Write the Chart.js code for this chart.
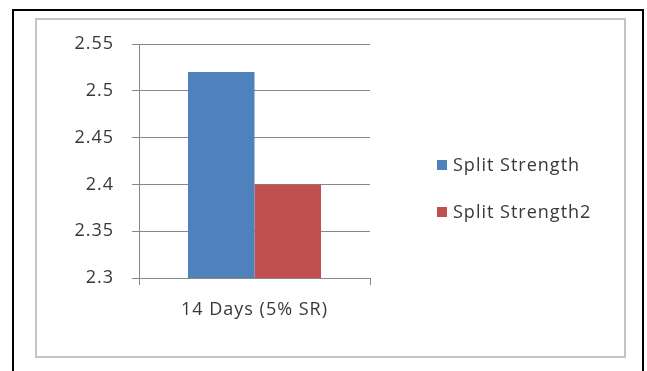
<!DOCTYPE html>
<html>
<head>
<meta charset="utf-8">
<script src="https://cdn.jsdelivr.net/npm/chart.js@4.4.1/dist/chart.umd.min.js"></script>
<style>
  html, body { margin: 0; padding: 0; background: #fff; overflow: hidden; }
  canvas { display: block; }
</style>
</head>
<body>
<canvas id="c" width="647" height="371"></canvas>
<script>
// Data
const categories = ['14 Days (5% SR)'];
const seriesNames = ['Split Strength', 'Split Strength2'];
const splitStrength = [2.52];
const splitStrength2 = [2.40];
const yTickValues = [2.3, 2.35, 2.4, 2.45, 2.5, 2.55];
const yTickLabels = ['2.3', '2.35', '2.4', '2.45', '2.5', '2.55'];
const seriesColors = ['#4F81BD', '#C0504D'];

// Styling
const FONT = { family: "'Open Sans', sans-serif", size: 18 };
const TEXT = '#383838';
const AXIS = '#878787';
const SPACING = '1px';

// Outer black border (open at the bottom) and the grey chart-area border
const framePlugin = {
  id: 'frames',
  beforeDraw(chart) {
    const ctx = chart.ctx;
    ctx.letterSpacing = SPACING;
    ctx.save();
    ctx.fillStyle = '#fff';
    ctx.fillRect(0, 0, chart.width, chart.height);
    ctx.strokeStyle = '#000';
    ctx.lineWidth = 2;
    ctx.beginPath();
    ctx.moveTo(13, 371);
    ctx.lineTo(13, 10);
    ctx.lineTo(643, 10);
    ctx.lineTo(643, 371);
    ctx.stroke();
    ctx.strokeStyle = '#c4c4c4';
    ctx.lineWidth = 2;
    ctx.strokeRect(36, 19, 589, 338);
    ctx.restore();
  }
};

// Legend drawn to the right of the plot, one row per dataset
const legendPlugin = {
  id: 'sideLegend',
  afterDraw(chart) {
    const ctx = chart.ctx;
    ctx.save();
    ctx.letterSpacing = SPACING;
    ctx.font = FONT.size + 'px ' + FONT.family;
    ctx.textBaseline = 'middle';
    chart.data.datasets.forEach((ds, i) => {
      const y = 165 + i * 47;
      ctx.fillStyle = ds.backgroundColor;
      ctx.fillRect(437, y - 5, 10, 10);
      ctx.fillStyle = TEXT;
      ctx.fillText(ds.label, 453, y + 1);
    });
    ctx.restore();
  }
};

new Chart(document.getElementById('c'), {
  type: 'bar',
  data: {
    labels: categories,
    datasets: [
      { label: seriesNames[0], data: splitStrength, backgroundColor: seriesColors[0] },
      { label: seriesNames[1], data: splitStrength2, backgroundColor: seriesColors[1] }
    ]
  },
  options: {
    responsive: false,
    animation: false,
    devicePixelRatio: 1,
    layout: { padding: { left: 40, top: 44, right: 277, bottom: 48 } },
    datasets: { bar: { categoryPercentage: 0.576, barPercentage: 1 } },
    plugins: { legend: { display: false }, tooltip: { enabled: false } },
    scales: {
      x: {
        grid: { display: true, drawOnChartArea: false, drawTicks: true, tickLength: 7, color: AXIS, offset: true },
        border: { color: AXIS },
        ticks: { font: FONT, color: TEXT, padding: 14 },
        afterFit(s) { s.height = 45; }
      },
      y: {
        min: 2.3,
        max: 2.55,
        grid: { color: AXIS, tickLength: 7 },
        border: { color: AXIS },
        ticks: { font: FONT, color: TEXT, padding: 18, callback: (v, i) => yTickLabels[i] },
        afterBuildTicks(s) { s.ticks = yTickValues.map(v => ({ value: v })); },
        afterFit(s) { s.width = 99; }
      }
    }
  },
  plugins: [framePlugin, legendPlugin]
});
</script>
</body>
</html>
